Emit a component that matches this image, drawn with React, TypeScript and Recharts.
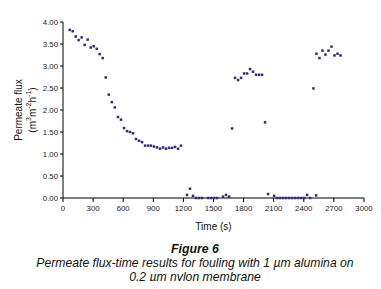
import React from "react";
import { ScatterChart, Scatter, XAxis, YAxis, Label } from "recharts";

// Time (s) of each reading
const timeSeconds = [
  67, 97, 127, 156, 186, 216, 246, 276, 306, 336, 366, 396, 426, 456, 486, 516,
  548, 578, 608, 638, 668, 698, 728, 758, 788, 818, 848, 877, 907, 937, 967, 997,
  1027, 1057, 1087, 1117, 1147, 1176, 1236, 1266, 1296, 1326, 1356, 1386, 1446,
  1476, 1506, 1536, 1595, 1625, 1655, 1685, 1715, 1745, 1775, 1805, 1835, 1864,
  1894, 1924, 1954, 1984, 2014, 2044, 2104, 2134, 2164, 2194, 2224, 2254, 2284,
  2314, 2344, 2374, 2404, 2433, 2463, 2496, 2523, 2526, 2556, 2586, 2616, 2646,
  2676, 2706, 2736, 2766,
];

// Permeate flux (m3 m-2 h-1)
const fluxValues = [
  3.82, 3.79, 3.67, 3.59, 3.65, 3.48, 3.6, 3.42, 3.45, 3.39, 3.27, 3.18, 2.74, 2.35, 2.18, 2.06,
  1.84, 1.78, 1.59, 1.52, 1.5, 1.47, 1.34, 1.3, 1.27, 1.19, 1.19, 1.19, 1.17, 1.15, 1.12, 1.15,
  1.12, 1.14, 1.14, 1.16, 1.12, 1.19, 0.07, 0.21, 0.05, 0, 0, 0, 0,
  0, 0, 0, 0.03, 0.07, 0.03, 1.58, 2.73, 2.68, 2.73, 2.83, 2.83, 2.93,
  2.87, 2.8, 2.8, 2.8, 1.72, 0.09, 0.05, 0, 0, 0, 0, 0, 0,
  0, 0, 0, 0, 0.07, 0, 2.49, 0.06, 3.28, 3.18, 3.35, 3.26, 3.35,
  3.44, 3.24, 3.28, 3.24,
];

const xTicks = [0, 300, 600, 900, 1200, 1500, 1800, 2100, 2400, 2700, 3000];
const yTicks = [0, 0.5, 1, 1.5, 2, 2.5, 3, 3.5, 4];

const points = timeSeconds.map((t, i) => ({ t, flux: fluxValues[i] }));

const FONT = '"Liberation Sans", Arial, sans-serif';

function Square(props: any) {
  const { cx, cy } = props;
  if (cx == null || cy == null) return null;
  return <rect x={cx - 1.25} y={cy - 1.25} width={2.5} height={2.5} fill="#2f2f78" />;
}

function FluxLabel(props: any) {
  const vb = props.viewBox || {};
  const cy = (vb.y ?? 14) + (vb.height ?? 176) / 2;
  return (
    <g fill="#111" fontSize={10} fontFamily={FONT}>
      <text x={10} y={cy} textAnchor="middle" dominantBaseline="central" transform={`rotate(-90, 10, ${cy})`}>
        Permeate flux
      </text>
      <text x={24} y={cy} textAnchor="middle" dominantBaseline="central" transform={`rotate(-90, 24, ${cy})`}>
        (m<tspan dy={-4} fontSize={7}>3</tspan>
        <tspan dy={4}>m</tspan>
        <tspan dy={-4} fontSize={7}>-2</tspan>
        <tspan dy={4}>h</tspan>
        <tspan dy={-4} fontSize={7}>-1</tspan>
        <tspan dy={4}>)</tspan>
      </text>
    </g>
  );
}

export default function App() {
  return (
    <div style={{ width: 374, height: 273, position: "relative", fontFamily: FONT }}>
      <ScatterChart width={365} height={225} margin={{ top: 14, right: 9, bottom: 0, left: 15 }}>
        <XAxis
          type="number"
          dataKey="t"
          domain={[0, 3000]}
          ticks={xTicks}
          interval={0}
          height={35}
          tickSize={4}
          tickMargin={3}
          axisLine={{ stroke: "#000" }}
          tickLine={{ stroke: "#000" }}
          tick={{ fontSize: 7.8, fill: "#222", fontFamily: FONT }}
        >
          <Label value="Time (s)" position="insideBottom" offset={3} style={{ fontSize: 10, fill: "#111", fontFamily: FONT }} />
        </XAxis>
        <YAxis
          type="number"
          dataKey="flux"
          domain={[0, 4]}
          ticks={yTicks}
          interval={0}
          width={40}
          tickSize={3}
          tickMargin={2}
          tickFormatter={(v: number) => v.toFixed(2)}
          axisLine={{ stroke: "#000" }}
          tickLine={{ stroke: "#000" }}
          tick={{ fontSize: 7.8, fill: "#222", fontFamily: FONT }}
        >
          <Label content={FluxLabel} />
        </YAxis>
        <Scatter data={points} shape={Square} fill="#2f2f78" isAnimationActive={false} />
      </ScatterChart>
      <div
        style={{
          position: "absolute",
          top: 233.5,
          left: 0,
          width: 374,
          textAlign: "center",
          fontStyle: "italic",
          fontSize: 12.2,
          lineHeight: "14px",
          color: "#111",
        }}
      >
        <div style={{ fontWeight: "bold", fontSize: 12.3 }}>Figure 6</div>
        <div>Permeate flux-time results for fouling with 1 µm alumina on</div>
        <div>0.2 µm nylon membrane</div>
      </div>
    </div>
  );
}
